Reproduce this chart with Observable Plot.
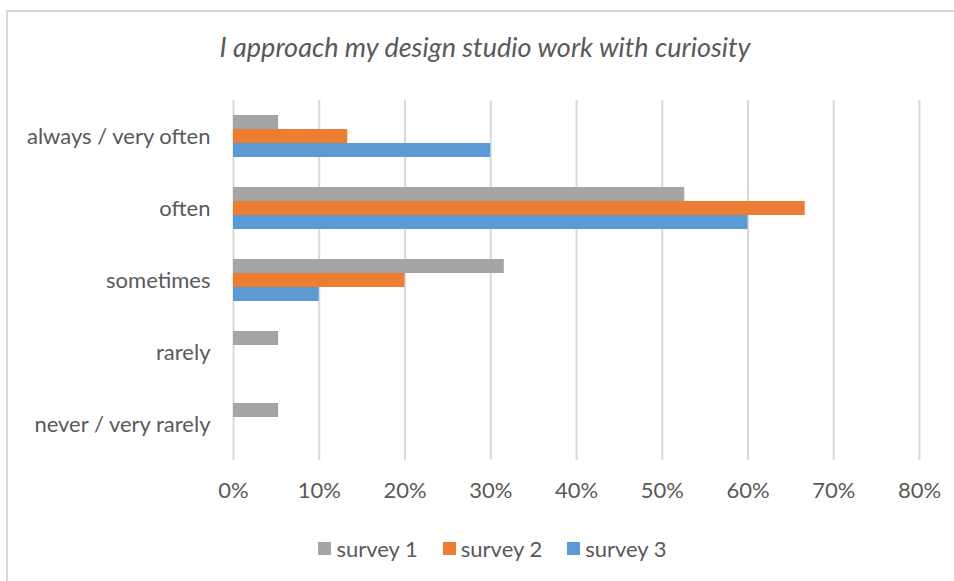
<!DOCTYPE html>
<html><head><meta charset="utf-8">
<script src="https://cdn.jsdelivr.net/npm/d3@7"></script>
<script src="https://cdn.jsdelivr.net/npm/@observablehq/plot@0.6"></script>
<style>
body{margin:0;background:#fff;width:954px;height:581px;overflow:hidden;font-family:Lato,"Open Sans",sans-serif;position:relative;}
#frame{position:absolute;left:6px;top:10px;width:960px;height:580px;border-top:2px solid #d9d9d9;border-left:2px solid #d9d9d9;}
#title{position:absolute;top:30px;left:0;width:970px;text-align:center;font-style:italic;font-size:27px;color:#595959;}
#chart{position:absolute;left:0;top:78px;}
#legend{position:absolute;top:532px;left:28px;width:954px;display:flex;justify-content:center;}
.lg-swatch{margin-right:25px !important;}
.lg-swatch svg{margin-right:5px !important;}
</style></head>
<body>
<div id="frame"></div>
<div id="title">I approach my design studio work with curiosity</div>
<div id="chart"></div>
<div id="legend"></div>
<script>
const categories = ["always / very often", "often", "sometimes", "rarely", "never / very rarely"];
const series = ["survey 1", "survey 2", "survey 3"];
const survey1 = [5.26, 52.63, 31.58, 5.26, 5.26];
const survey2 = [13.33, 66.67, 20, 0, 0];
const survey3 = [30, 60, 10, 0, 0];
const colors = ["#A5A5A5", "#ED7D31", "#5B9BD5"];
const xTicks = [0, 10, 20, 30, 40, 50, 60, 70, 80];

const values = [survey1, survey2, survey3];
const data = [];
categories.forEach((c, i) => series.forEach((s, j) => data.push({category: c, series: s, value: values[j][i]})));

const textColor = "#595959";
const chart = Plot.plot({
  width: 954,
  height: 20 + 364 + 50,
  marginLeft: 233,
  marginRight: 35,
  marginTop: 20,
  marginBottom: 50,
  style: {fontFamily: "Lato, 'Open Sans', sans-serif", color: textColor, background: "transparent"},
  x: {domain: [0, 80], ticks: xTicks},
  fy: {domain: categories, padding: 0},
  y: {domain: series, paddingInner: 0, paddingOuter: 0.93, axis: null},
  color: {domain: series, range: colors},
  marks: [
    Plot.gridX(xTicks, {stroke: "#d9d9d9", strokeOpacity: 1, strokeWidth: 2}),
    Plot.barX(data, {x: "value", y: "series", fy: "category", fill: "series"}),
    Plot.axisX({ticks: xTicks, tickFormat: d => d + "%", tickSize: 0, tickPadding: 22, fontSize: 22, label: null, fill: textColor}),
    Plot.axisFy({anchor: "left", tickSize: 0, tickPadding: 23, fontSize: 22, label: null, fill: textColor})
  ]
});
document.getElementById("chart").appendChild(chart);

const legend = Plot.legend({
  color: {domain: series, range: colors},
  legend: "swatches",
  swatchSize: 13,
  className: "lg",
  style: {fontSize: "22px", fontFamily: "Lato, 'Open Sans', sans-serif", color: textColor}
});
document.getElementById("legend").appendChild(legend);
</script>
</body></html>
